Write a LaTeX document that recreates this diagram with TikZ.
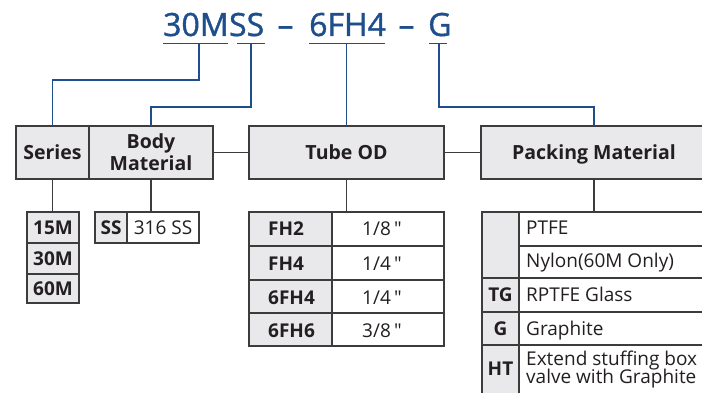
\documentclass[tikz,border=0pt]{standalone}
\usepackage{fontspec}
\setmainfont{Open Sans}
\newfontfamily\ttlfont[FakeBold=1.2]{Open Sans}
\newfontfamily\qfont[Ligatures=ResetAll]{Open Sans}
\newcommand{\inchmark}{{\qfont"}}
\definecolor{ink}{HTML}{231F20}
\definecolor{blu}{HTML}{1F4E8C}
\definecolor{cellg}{HTML}{E9E9EB}
\definecolor{edge}{HTML}{3C3C3C}
\begin{document}
\begin{tikzpicture}[x=1pt,y=-1pt,
  cell/.style={draw=edge, line width=1.3pt, inner sep=0pt, outer sep=0pt, text=ink, anchor=north west},
  gcell/.style={cell, fill=cellg},
  wcell/.style={cell, fill=white},
  hdr/.style={font=\fontsize{19.5}{22}\selectfont\bfseries, align=center},
  bfs/.style={font=\fontsize{19}{22}\selectfont\bfseries},
  rgs/.style={font=\fontsize{19}{22}\selectfont},
  txt/.style={inner sep=0pt, text=ink},
  ttl/.style={inner sep=0pt, text=blu, font=\ttlfont\fontsize{32}{36}\selectfont, anchor=base west},
  bline/.style={draw=blu, line width=1.6pt},
  kline/.style={draw=edge, line width=1.3pt}
]
\useasboundingbox (0,0) rectangle (702,393);

% title
\node[ttl] (t1) at (163,36) {30M};
\node[ttl] (t2) at (t1.base east) {SS};
\node[ttl, anchor=base] (d1) at (285.5,36) {–};
\node[ttl] (t3) at (309,36) {6FH4};
\node[ttl, anchor=base] (d2) at (406.5,36) {–};
\node[ttl] (t4) at (428,36) {G};

\coordinate (u1a) at (163,43.5); \coordinate (u1b) at (228,43.5); \coordinate (u1m) at (199,43.5);
\coordinate (u2a) at (237,43.5); \coordinate (u2b) at (265,43.5); \coordinate (u2m) at (251,43.5);
\coordinate (u3a) at (309,43.5); \coordinate (u3b) at (385,43.5); \coordinate (u3m) at (346.5,43.5);
\coordinate (u4a) at (429,43.5); \coordinate (u4b) at (447,43.5); \coordinate (u4m) at (439,43.5);
\draw[bline] (u1a) -- (u1b);
\draw[bline] (u2a) -- (u2b);
\draw[bline] (u3a) -- (u3b);
\draw[bline] (u4a) -- (u4b);

% header boxes
\node[gcell, hdr, minimum width=73pt, minimum height=53pt] (series) at (16,126) {Series};
\node[gcell, hdr, minimum width=124pt, minimum height=53pt] (body) at (89,126) {Body\\Material};
\node[gcell, hdr, minimum width=195pt, minimum height=53pt] (tube) at (249,126) {Tube OD};
\node[gcell, hdr, text depth=0pt, minimum width=226pt, minimum height=53pt] (pack) at (481,126) {Packing Material};

% blue connectors
\coordinate (k1) at (52.5,80);
\coordinate (k2) at (151,107);
\coordinate (k4) at (594,107);
\draw[bline] (u1m) |- (k1) -- (series.north);
\draw[bline] (u2m) |- (k2) -- (body.north);
\draw[bline] (u3m) -- (tube.north);
\draw[bline] (u4m) |- (k4) -- (pack.north);

% header links
\draw[kline] (body.east) -- (tube.west);
\draw[kline] (tube.east) -- (pack.west);

% series table
\node[gcell, bfs, minimum width=52pt, minimum height=31pt] (s15) at (27,212) {15M};
\node[gcell, bfs, minimum width=52pt, minimum height=31pt] (s30) at (27,243) {30M};
\node[gcell, bfs, minimum width=52pt, minimum height=29pt] (s60) at (27,274) {60M};
\draw[kline] (series.south) -- (series.south |- s15.north);

% body table
\node[gcell, bfs, minimum width=32pt, minimum height=31pt] (bss) at (95,212) {SS};
\node[wcell, rgs, minimum width=72pt, minimum height=31pt] (bssv) at (127,212) {316 SS};
\draw[kline] (body.south) -- (body.south |- bss.north);

% tube table
\node[gcell, minimum width=83pt, minimum height=34pt] (c1) at (249,212) {};
\node[wcell, minimum width=112pt, minimum height=34pt] (v1) at (332,212) {};
\node[gcell, minimum width=83pt, minimum height=34pt] (c2) at (249,246) {};
\node[wcell, minimum width=112pt, minimum height=34pt] (v2) at (332,246) {};
\node[gcell, minimum width=83pt, minimum height=33pt] (c3) at (249,280) {};
\node[wcell, minimum width=112pt, minimum height=33pt] (v3) at (332,280) {};
\node[gcell, minimum width=83pt, minimum height=33pt] (c4) at (249,313) {};
\node[wcell, minimum width=112pt, minimum height=33pt] (v4) at (332,313) {};
\draw[kline] (tube.south) -- (tube.south |- c1.north);
\node[txt, bfs, anchor=base west] (c1t) at (268,236) {FH2};
\node[txt, bfs, anchor=base west] (c2t) at (268,270) {FH4};
\node[txt, bfs, anchor=base west] (c3t) at (268,304) {6FH4};
\node[txt, bfs, anchor=base west] (c4t) at (268,337) {6FH6};
\node[txt, rgs, anchor=base west] (v1t) at (362,236) {1/8\,\inchmark};
\node[txt, rgs, anchor=base west] (v2t) at (362,270) {1/4\,\inchmark};
\node[txt, rgs, anchor=base west] (v3t) at (362,304) {1/4\,\inchmark};
\node[txt, rgs, anchor=base west] (v4t) at (362,337) {3/8\,\inchmark};

% packing table
\node[gcell, minimum width=37pt, minimum height=66pt] (p0) at (482,212) {};
\node[wcell, minimum width=188pt, minimum height=34pt] (q1) at (519,212) {};
\node[wcell, minimum width=188pt, minimum height=32pt] (q2) at (519,246) {};
\node[gcell, bfs, minimum width=37pt, minimum height=34pt] (p3) at (482,278) {TG};
\node[wcell, minimum width=188pt, minimum height=34pt] (q3) at (519,278) {};
\node[gcell, bfs, minimum width=37pt, minimum height=33pt] (p4) at (482,312) {G};
\node[wcell, minimum width=188pt, minimum height=33pt] (q4) at (519,312) {};
\node[gcell, bfs, minimum width=37pt, minimum height=60pt] (p5) at (482,345) {};
\node[wcell, minimum width=188pt, minimum height=60pt] (q5) at (519,345) {};
\draw[kline] (pack.south) -- (pack.south |- q1.north);
\node[txt, bfs, anchor=base] (p5t) at (500.5,375) {HT};
\node[txt, rgs, anchor=base west] (q1t) at (526,234) {PTFE};
\node[txt, rgs, anchor=base west] (q2t) at (526,267) {Nylon(60M Only)};
\node[txt, rgs, anchor=base west] (q3t) at (526,301.5) {RPTFE Glass};
\node[txt, rgs, anchor=base west] (q4t) at (526,335) {Graphite};
\node[txt, rgs, anchor=base west] (q5t) at (526,365) {Extend stuffing box};
\node[txt, rgs, anchor=base west] (q6t) at (526,383) {valve with Graphite};
\end{tikzpicture}
\end{document}
